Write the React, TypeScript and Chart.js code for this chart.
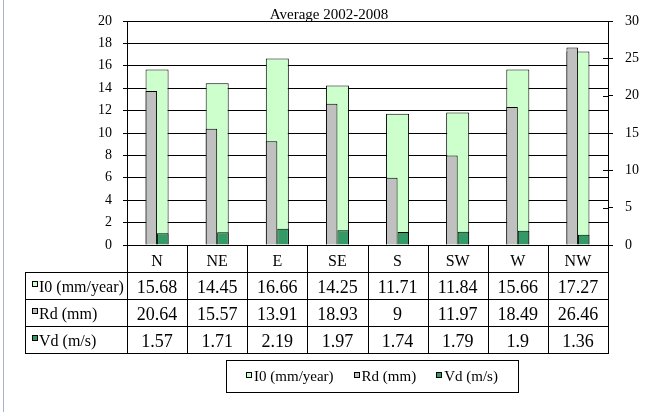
import React, { useEffect, useRef } from 'react';
import { Chart, registerables } from 'chart.js';

Chart.register(...registerables);

const titleText = 'Average 2002-2008';
const categories = ['N', 'NE', 'E', 'SE', 'S', 'SW', 'W', 'NW'];
const i0Values = [15.68, 14.45, 16.66, 14.25, 11.71, 11.84, 15.66, 17.27];
const rdValues = [20.64, 15.57, 13.91, 18.93, 9, 11.97, 18.49, 26.46];
const vdValues = [1.57, 1.71, 2.19, 1.97, 1.74, 1.79, 1.9, 1.36];
const seriesNames = ['I0 (mm/year)', 'Rd (mm)', 'Vd (m/s)'];
const seriesColors = ['#CCFFCC', '#C0C0C0', '#339966'];
const leftTicks = [0, 2, 4, 6, 8, 10, 12, 14, 16, 18, 20];
const rightTicks = [0, 5, 10, 15, 20, 25, 30];

const serif = "'Liberation Serif', 'Times New Roman', serif";

const decorPlugin = {
  id: 'decor',
  beforeDraw(chart: any) {
    const ctx = chart.ctx;
    ctx.save();
    ctx.fillStyle = '#ffffff';
    ctx.fillRect(0, 0, chart.width, chart.height);
    ctx.fillStyle = '#a3b3d3';
    ctx.fillRect(3, 0, 1, chart.height);
    ctx.restore();
  },
  afterDraw(chart: any) {
    const { ctx, chartArea } = chart;
    const x = chart.scales.x;
    const y1 = chart.scales.y1;
    const n = categories.length;
    const colW = (chartArea.right - chartArea.left) / n;
    const rowH = 27;
    const top = chartArea.bottom;
    const tableLeft = 25;
    const rows = [i0Values, rdValues, vdValues];
    const bottom = top + rowH * (rows.length + 1);
    const al = (v: number) => Math.round(v) + 0.5;

    ctx.save();
    ctx.strokeStyle = '#000';
    ctx.lineWidth = 1;
    ctx.beginPath();
    for (let i = 0; i <= n; i++) {
      const xx = al(x.getPixelForValue(0) - colW / 2 + i * colW);
      ctx.moveTo(xx, top);
      ctx.lineTo(xx, bottom + 0.5);
    }
    ctx.moveTo(al(tableLeft), top + rowH);
    ctx.lineTo(al(tableLeft), bottom + 0.5);
    for (let r = 1; r <= rows.length + 1; r++) {
      const yy = al(top + r * rowH);
      ctx.moveTo(tableLeft, yy);
      ctx.lineTo(chartArea.right + 1, yy);
    }
    // inner half of cross tick marks on right axis
    rightTicks.forEach((t) => {
      const yy = al(y1.getPixelForValue(t));
      ctx.moveTo(chartArea.right - 5, yy);
      ctx.lineTo(chartArea.right, yy);
    });
    ctx.stroke();

    // values
    ctx.fillStyle = '#000';
    ctx.textAlign = 'center';
    ctx.textBaseline = 'middle';
    ctx.font = `18px ${serif}`;
    rows.forEach((vals, r) => {
      vals.forEach((v, i) => {
        ctx.fillText(String(v), x.getPixelForValue(i), top + (r + 1) * rowH + 16);
      });
    });

    // row labels
    ctx.font = `16px ${serif}`;
    ctx.textAlign = 'left';
    seriesNames.forEach((name, r) => {
      const rt = top + (r + 1) * rowH;
      ctx.fillStyle = seriesColors[r];
      ctx.fillRect(32, rt + 9, 6, 6);
      ctx.strokeRect(32.5, rt + 9.5, 5, 5);
      ctx.fillStyle = '#000';
      ctx.fillText(name, 39, rt + 16);
    });

    // title
    ctx.font = `15px ${serif}`;
    ctx.textAlign = 'center';
    ctx.textBaseline = 'alphabetic';
    ctx.fillText(titleText, 329, 19);

    // legend box
    const boxL = 226, boxR = 518, boxT = 360, boxB = 392;
    ctx.fillStyle = '#fff';
    ctx.fillRect(boxL, boxT, boxR - boxL, boxB - boxT);
    ctx.strokeStyle = '#000';
    ctx.strokeRect(boxL + 0.5, boxT + 0.5, boxR - boxL, boxB - boxT);
    ctx.font = `15px ${serif}`;
    ctx.textAlign = 'left';
    ctx.textBaseline = 'middle';
    const marker = 6, gap = 2, spacing = 20;
    const widths = seriesNames.map((s) => ctx.measureText(s).width);
    const total = widths.reduce((a, w) => a + marker + gap + w, 0) + spacing * (seriesNames.length - 1);
    let cx = (boxL + boxR) / 2 - total / 2;
    const cy = (boxT + boxB) / 2 + 1;
    seriesNames.forEach((s, k) => {
      ctx.fillStyle = seriesColors[k];
      ctx.fillRect(Math.round(cx), Math.round(cy - 5), marker, marker);
      ctx.strokeRect(Math.round(cx) + 0.5, Math.round(cy - 5) + 0.5, marker - 1, marker - 1);
      ctx.fillStyle = '#000';
      ctx.fillText(s, cx + marker + gap, cy);
      cx += marker + gap + widths[k] + spacing;
    });
    ctx.restore();
  },
};

export default function App() {
  const ref = useRef<HTMLCanvasElement | null>(null);
  useEffect(() => {
    if (!ref.current) return;
    const common = {
      borderColor: '#000000',
      borderWidth: 1,
      categoryPercentage: 0.383,
      barPercentage: 1,
    };
    const chart = new Chart(ref.current, {
      type: 'bar',
      data: {
        labels: categories,
        datasets: [
          { ...common, label: seriesNames[0], data: i0Values, yAxisID: 'y', backgroundColor: seriesColors[0], grouped: false, order: 1 } as any,
          { ...common, label: seriesNames[1], data: rdValues, yAxisID: 'y1', backgroundColor: seriesColors[1], order: 0 } as any,
          { ...common, label: seriesNames[2], data: vdValues, yAxisID: 'y1', backgroundColor: seriesColors[2], order: 0 } as any,
        ],
      },
      options: {
        responsive: false,
        animation: false,
        devicePixelRatio: 1,
        layout: { padding: { top: 21, left: 0, right: 0, bottom: 0 } },
        plugins: {
          legend: { display: false },
          title: { display: false },
          tooltip: { enabled: false },
        },
        scales: {
          x: {
            grid: { display: false, drawTicks: false },
            border: { display: true, color: '#000' },
            ticks: { color: '#000', font: { family: serif, size: 16 }, padding: 7 },
            afterFit: (s: any) => { s.height = 412 - 245; },
          },
          y: {
            type: 'linear',
            position: 'left',
            min: leftTicks[0],
            max: leftTicks[leftTicks.length - 1],
            ticks: { stepSize: leftTicks[1] - leftTicks[0], color: '#000', font: { family: serif, size: 14 }, padding: 11 },
            grid: { color: '#000', tickLength: 4 },
            border: { color: '#000' },
            afterFit: (s: any) => { s.width = 127; },
          },
          y1: {
            type: 'linear',
            position: 'right',
            min: rightTicks[0],
            max: rightTicks[rightTicks.length - 1],
            ticks: { stepSize: rightTicks[1] - rightTicks[0], color: '#000', font: { family: serif, size: 14 }, padding: 12 },
            grid: { drawOnChartArea: false, color: '#000', tickLength: 5 },
            border: { color: '#000' },
            afterFit: (s: any) => { s.width = 42; },
          },
        },
      } as any,
      plugins: [decorPlugin],
    });
    return () => chart.destroy();
  }, []);
  return (
    <div style={{ position: 'absolute', left: 0, top: 0, width: 650, height: 412, background: '#fff' }}>
      <canvas ref={ref} width={650} height={412} style={{ display: 'block' }} />
    </div>
  );
}
